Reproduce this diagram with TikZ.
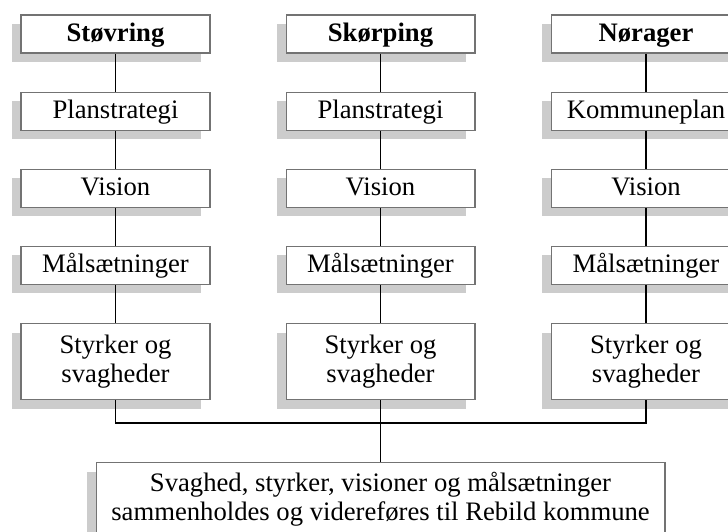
\documentclass[tikz,border=0pt]{standalone}
\usepackage{fontspec}
\setmainfont{Liberation Serif}
\usetikzlibrary{positioning,shadows}

\begin{document}
\begin{tikzpicture}[x=0.45pt,y=-0.45pt,node distance=17.1pt]
  \tikzstyle{box}=[draw=black!55,line width=0.5pt,fill=white,align=center,inner sep=0pt,minimum width=85pt,minimum height=17.1pt,text height=8.6pt,text depth=2.2pt,font=\fontsize{12}{13.3}\selectfont,drop shadow={shadow xshift=-4.1pt,shadow yshift=-4.1pt,fill=black!20,opacity=1}]
  \tikzstyle{tall}=[minimum height=34.2pt,text height=,text depth=]
  \tikzstyle{link}=[line width=0.7pt]
  \path[use as bounding box] (0,0) rectangle (728,531);
  \clip (0,0) rectangle (728,531);
  % Støvring
  \node[box] (st) at (115.5,34) {\textbf{Støvring}};
  \node[box,below=of st] (stplan) {Planstrategi};
  \node[box,below=of stplan] (stvis) {Vision};
  \node[box,below=of stvis] (stmaal) {Målsætninger};
  \node[box,tall,below=of stmaal] (ststyrk) {Styrker og\\svagheder};
  % Skørping
  \node[box] (sk) at (380.5,34) {\textbf{Skørping}};
  \node[box,below=of sk] (skplan) {Planstrategi};
  \node[box,below=of skplan] (skvis) {Vision};
  \node[box,below=of skvis] (skmaal) {Målsætninger};
  \node[box,tall,below=of skmaal] (skstyrk) {Styrker og\\svagheder};
  % Nørager
  \node[box] (no) at (646,34) {\textbf{Nørager}};
  \node[box,below=of no] (noplan) {Kommuneplan};
  \node[box,below=of noplan] (novis) {Vision};
  \node[box,below=of novis] (nomaal) {Målsætninger};
  \node[box,tall,below=of nomaal] (nostyrk) {Styrker og\\svagheder};
  % Rebild
  \node[box,tall,minimum width=256pt,minimum height=33pt,below=27.9pt of skstyrk] (rebild) {Svaghed, styrker, visioner og målsætninger\\sammenholdes og videreføres til Rebild kommune};
  \coordinate (samle) at (380.5,423);

  \draw[link] (st) -- (stplan) -- (stvis) -- (stmaal) -- (ststyrk);
  \draw[link] (sk) -- (skplan) -- (skvis) -- (skmaal) -- (skstyrk);
  \draw[link] (no) -- (noplan) -- (novis) -- (nomaal) -- (nostyrk);
  \draw[link] (ststyrk) |- (samle) -| (nostyrk);
  \draw[link] (skstyrk) -- (rebild);
\end{tikzpicture}
\end{document}
